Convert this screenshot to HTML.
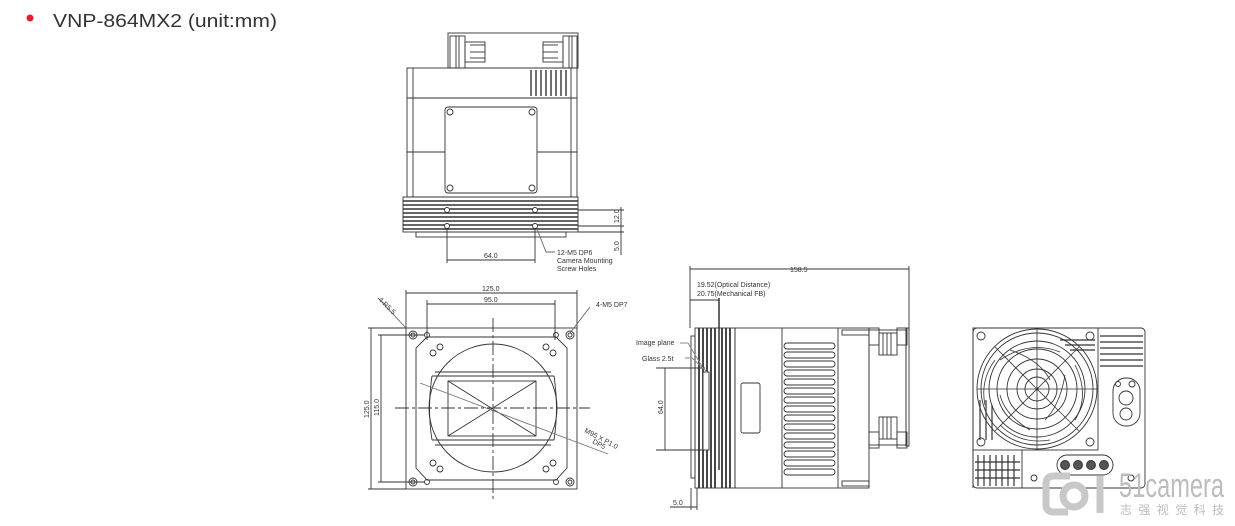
<!DOCTYPE html>
<html><head><meta charset="utf-8"><style>
html,body{margin:0;padding:0;background:#fff;}
svg{display:block;}
text{font-family:"Liberation Sans","Noto Sans CJK SC",sans-serif;}
</style></head><body>
<svg width="1235" height="526" viewBox="0 0 1235 526" xmlns="http://www.w3.org/2000/svg">
<circle cx="30" cy="18" r="3.5" fill="#e0202e"/>
<text x="53" y="27" font-size="18" fill="#333" textLength="224" lengthAdjust="spacingAndGlyphs">VNP-864MX2 (unit:mm)</text>

<g fill="none" stroke="#333" stroke-width="0.9">
<!-- TOP VIEW -->
<rect x="448" y="33" width="130" height="35"/>
<rect x="450" y="36" width="15" height="32"/><rect x="465" y="42" width="20" height="20"/>
<rect x="563" y="36" width="14" height="32"/><rect x="543" y="42" width="20" height="20"/>
<line x1="456" y1="36" x2="456" y2="68"/><line x1="459" y1="36" x2="459" y2="68"/><line x1="569" y1="36" x2="569" y2="68"/><line x1="572" y1="36" x2="572" y2="68"/>
<line x1="470" y1="45" x2="485" y2="45"/><line x1="470" y1="52" x2="485" y2="52"/><line x1="470" y1="58" x2="485" y2="58"/>
<line x1="543" y1="45" x2="558" y2="45"/><line x1="543" y1="52" x2="558" y2="52"/><line x1="543" y1="58" x2="558" y2="58"/>
<rect x="407" y="68" width="170" height="129"/>
<line x1="413" y1="68" x2="413" y2="197"/><line x1="571" y1="68" x2="571" y2="197"/>
<line x1="407" y1="98" x2="577" y2="98"/><line x1="407" y1="152" x2="445" y2="152"/><line x1="537" y1="152" x2="577" y2="152"/>
<g stroke-width="1.4"><line x1="531" y1="70" x2="531" y2="96"/><line x1="536" y1="70" x2="536" y2="96"/><line x1="541" y1="70" x2="541" y2="96"/><line x1="546" y1="70" x2="546" y2="96"/><line x1="551" y1="70" x2="551" y2="96"/><line x1="556" y1="70" x2="556" y2="96"/><line x1="561" y1="70" x2="561" y2="96"/><line x1="566" y1="70" x2="566" y2="96"/></g>
<rect x="445" y="107" width="92" height="86" rx="3"/>
<circle cx="450" cy="112" r="3"/><circle cx="532" cy="112" r="3"/><circle cx="450" cy="188" r="3"/><circle cx="532" cy="188" r="3"/>
<rect x="403" y="197" width="175" height="35"/>
<g stroke-width="1.5"><line x1="403" y1="201" x2="578" y2="201"/><line x1="403" y1="205" x2="578" y2="205"/><line x1="403" y1="209" x2="578" y2="209"/><line x1="403" y1="213" x2="578" y2="213"/><line x1="403" y1="217" x2="578" y2="217"/><line x1="403" y1="221" x2="578" y2="221"/><line x1="403" y1="225" x2="578" y2="225"/><line x1="403" y1="229" x2="578" y2="229"/></g>
<rect x="416" y="232" width="150" height="5"/>
<circle cx="447" cy="210" r="2.5" fill="#fff"/><circle cx="535" cy="210" r="2.5" fill="#fff"/><circle cx="447" cy="226" r="2.5" fill="#fff"/><circle cx="535" cy="226" r="2.5" fill="#fff"/>
<line x1="447" y1="228" x2="447" y2="263"/><line x1="535" y1="228" x2="535" y2="263"/><line x1="447" y1="260" x2="535" y2="260"/>
<line x1="578" y1="210" x2="624" y2="210"/><line x1="578" y1="226" x2="624" y2="226"/><line x1="578" y1="232" x2="624" y2="232"/>
<line x1="621" y1="207" x2="621" y2="255"/>
<polyline points="537,229 546,252 555,252" stroke="#666"/>

<!-- FRONT VIEW -->
<rect x="406" y="328" width="171" height="161"/>
<polygon points="427,337 556,337 567,348 567,468 556,480 427,480 416,468 416,348"/>
<circle cx="493" cy="408" r="64"/>
<line x1="435" y1="372" x2="551" y2="372"/><line x1="432" y1="376" x2="554" y2="376"/>
<line x1="432" y1="440" x2="554" y2="440"/><line x1="435" y1="445" x2="551" y2="445"/>
<path d="M432 376 Q427 408 432 440 M554 376 Q559 408 554 440"/>
<rect x="448" y="381" width="88" height="55"/>
<line x1="448" y1="436" x2="536" y2="381"/><line x1="448" y1="381" x2="536" y2="436"/>
<line x1="420" y1="383" x2="608" y2="454" stroke="#777"/>
<line x1="395" y1="408" x2="590" y2="408" stroke-dasharray="14,3,3,3"/>
<line x1="493" y1="318" x2="493" y2="500" stroke-dasharray="14,3,3,3"/>
<circle cx="413" cy="335" r="4"/><circle cx="413" cy="335" r="2"/><circle cx="570" cy="335" r="4"/><circle cx="570" cy="335" r="2"/>
<circle cx="413" cy="482" r="4"/><circle cx="413" cy="482" r="2"/><circle cx="570" cy="482" r="4"/><circle cx="570" cy="482" r="2"/>
<circle cx="427" cy="335" r="2.5"/><circle cx="556" cy="335" r="2.5"/><circle cx="427" cy="482" r="2.5"/><circle cx="556" cy="482" r="2.5"/>
<circle cx="433" cy="353" r="3"/><circle cx="440" cy="347" r="3"/><circle cx="553" cy="353" r="3"/><circle cx="546" cy="347" r="3"/>
<circle cx="433" cy="463" r="3"/><circle cx="440" cy="469" r="3"/><circle cx="553" cy="463" r="3"/><circle cx="546" cy="469" r="3"/>
<line x1="406" y1="290" x2="406" y2="328"/><line x1="577" y1="290" x2="577" y2="328"/><line x1="406" y1="293" x2="577" y2="293"/>
<line x1="427" y1="300" x2="427" y2="340"/><line x1="555" y1="300" x2="555" y2="340"/><line x1="427" y1="304" x2="555" y2="304"/>
<line x1="368" y1="328" x2="406" y2="328"/><line x1="368" y1="489" x2="406" y2="489"/><line x1="371" y1="328" x2="371" y2="489"/>
<line x1="378" y1="335" x2="425" y2="335"/><line x1="378" y1="482" x2="425" y2="482"/><line x1="381" y1="335" x2="381" y2="482"/>
<line x1="378" y1="298" x2="406" y2="328" stroke="#666"/>
<line x1="590" y1="307" x2="570" y2="333" stroke="#666"/>

<!-- SIDE VIEW -->
<line x1="690" y1="269" x2="909" y2="269"/><line x1="690" y1="266" x2="690" y2="328"/><line x1="909" y1="266" x2="909" y2="330"/>
<line x1="690" y1="300" x2="719" y2="300"/><line x1="719" y1="298" x2="719" y2="470" stroke-width="1.5"/>
<rect x="695" y="328" width="40" height="160"/>
<g stroke-width="1.8"><line x1="699" y1="328" x2="699" y2="488"/><line x1="703" y1="328" x2="703" y2="488"/><line x1="707" y1="328" x2="707" y2="488"/><line x1="711" y1="328" x2="711" y2="488"/><line x1="715" y1="328" x2="715" y2="488"/><line x1="722" y1="328" x2="722" y2="488"/><line x1="726" y1="328" x2="726" y2="488"/><line x1="730" y1="328" x2="730" y2="488"/></g>
<rect x="691" y="336" width="4" height="142"/>
<rect x="703" y="372" width="6" height="78" fill="#fff"/>
<rect x="735" y="328" width="134" height="160"/>
<line x1="782" y1="328" x2="782" y2="488"/><line x1="838" y1="328" x2="838" y2="488"/>
<rect x="741" y="383" width="19" height="50" rx="2"/>
<rect x="842" y="330" width="27" height="5"/><rect x="842" y="481" width="27" height="5"/>
<g>
<rect x="784" y="343" width="51" height="6" rx="3"/><rect x="784" y="352" width="51" height="6" rx="3"/><rect x="784" y="361" width="51" height="6" rx="3"/><rect x="784" y="370" width="51" height="6" rx="3"/><rect x="784" y="379" width="51" height="6" rx="3"/><rect x="784" y="388" width="51" height="6" rx="3"/><rect x="784" y="397" width="51" height="6" rx="3"/><rect x="784" y="406" width="51" height="6" rx="3"/><rect x="784" y="415" width="51" height="6" rx="3"/><rect x="784" y="424" width="51" height="6" rx="3"/><rect x="784" y="433" width="51" height="6" rx="3"/><rect x="784" y="442" width="51" height="6" rx="3"/><rect x="784" y="451" width="51" height="6" rx="3"/><rect x="784" y="460" width="51" height="6" rx="3"/><rect x="784" y="469" width="51" height="6" rx="3"/>
</g>
<rect x="869" y="330" width="37" height="115"/><rect x="906" y="328" width="3" height="118"/>
<rect x="869" y="328" width="10" height="17"/><rect x="897" y="328" width="10" height="17"/><rect x="879" y="333" width="18" height="22"/>
<rect x="869" y="432" width="10" height="16"/><rect x="897" y="432" width="10" height="16"/><rect x="879" y="417" width="18" height="22"/>
<line x1="883" y1="333" x2="883" y2="355"/><line x1="887" y1="333" x2="887" y2="355"/><line x1="891" y1="333" x2="891" y2="355"/>
<line x1="883" y1="417" x2="883" y2="439"/><line x1="887" y1="417" x2="887" y2="439"/><line x1="891" y1="417" x2="891" y2="439"/>
<line x1="656" y1="368" x2="705" y2="368"/><line x1="656" y1="450" x2="705" y2="450"/><line x1="665" y1="368" x2="665" y2="450"/>
<polyline points="680,343 688,343 703,368" stroke="#888"/><polyline points="685,358 692,358 707,372" stroke="#888"/>
<line x1="691" y1="488" x2="691" y2="510"/><line x1="697" y1="488" x2="697" y2="510"/><line x1="670" y1="507" x2="697" y2="507"/>

<!-- BACK VIEW -->
<rect x="973" y="328" width="172" height="160" rx="4"/>
<rect x="973" y="328" width="125" height="122"/>
<line x1="973" y1="450" x2="973" y2="488"/><line x1="1022" y1="450" x2="1022" y2="488"/>
<circle cx="1037" cy="389" r="60"/><circle cx="1037" cy="389" r="56"/><circle cx="1037" cy="389" r="48"/><circle cx="1037" cy="389" r="40"/><circle cx="1037" cy="389" r="30"/><circle cx="1037" cy="389" r="20"/><circle cx="1037" cy="389" r="12"/>
<g stroke-width="0.8"><line x1="1037" y1="329" x2="1037" y2="449"/><line x1="977" y1="389" x2="1097" y2="389"/><line x1="995" y1="347" x2="1079" y2="431"/><line x1="995" y1="431" x2="1079" y2="347"/>
<path d="M1000 360 Q1030 340 1060 352 M1075 365 Q1090 395 1075 420 M1050 440 Q1020 445 1000 425 M985 405 Q980 380 995 360 M1010 350 Q1040 360 1050 380 M1065 375 Q1060 405 1045 420 M1030 430 Q1005 415 1000 395"/></g>
<g stroke-width="1.2"><line x1="980" y1="400" x2="980" y2="440"/><line x1="986" y1="400" x2="986" y2="440"/><line x1="992" y1="405" x2="992" y2="440"/><line x1="1060" y1="340" x2="1095" y2="340"/><line x1="1065" y1="345" x2="1095" y2="345"/><line x1="1070" y1="350" x2="1095" y2="350"/></g>
<circle cx="981" cy="336" r="4"/><circle cx="1090" cy="336" r="4"/><circle cx="981" cy="442" r="4"/><circle cx="1090" cy="442" r="4"/>
<g stroke-width="1.2"><line x1="1100" y1="336" x2="1143" y2="336"/><line x1="1100" y1="342" x2="1143" y2="342"/><line x1="1100" y1="348" x2="1143" y2="348"/><line x1="1100" y1="354" x2="1143" y2="354"/><line x1="1100" y1="360" x2="1143" y2="360"/><line x1="1100" y1="366" x2="1143" y2="366"/>
<line x1="978" y1="455" x2="978" y2="486"/><line x1="984" y1="455" x2="984" y2="486"/><line x1="990" y1="455" x2="990" y2="486"/><line x1="996" y1="455" x2="996" y2="486"/><line x1="1002" y1="455" x2="1002" y2="486"/><line x1="1008" y1="455" x2="1008" y2="486"/><line x1="1014" y1="455" x2="1014" y2="486"/>
<line x1="975" y1="462" x2="1020" y2="462"/><line x1="975" y1="470" x2="1020" y2="470"/><line x1="975" y1="478" x2="1020" y2="478"/></g>
<rect x="1113" y="378" width="27" height="48" rx="13"/><circle cx="1126" cy="398" r="7"/><circle cx="1126" cy="414" r="6"/>
<circle cx="1118" cy="384" r="2.5"/><circle cx="1132" cy="384" r="3"/>
<rect x="1057" y="455" width="56" height="20" rx="10"/>
<circle cx="1065" cy="465" r="4.5" fill="#555"/><circle cx="1078" cy="465" r="4.5" fill="#555"/><circle cx="1091" cy="465" r="4.5" fill="#555"/><circle cx="1104" cy="465" r="4.5" fill="#555"/>
<circle cx="1034" cy="478" r="3"/><circle cx="1131" cy="478" r="3"/>
</g>
<circle cx="1037" cy="389" r="1.5" fill="#333"/>

<!-- watermark -->
<g fill="none" stroke="#c8c8c8" stroke-width="7">
<path d="M1070 476 H1054 Q1046 476 1046 484 V505 Q1046 512 1054 512 H1068"/>
<circle cx="1074" cy="496" r="11"/>
<line x1="1100" y1="476" x2="1100" y2="513"/>
</g>
<text x="1119" y="497" font-size="34" fill="#bdbdbd" textLength="105" lengthAdjust="spacingAndGlyphs">51camera</text>
<text x="1120" y="514" font-size="12" fill="#bdbdbd" textLength="104" lengthAdjust="spacing">志强视觉科技</text>

<!-- labels -->
<g font-size="7" fill="#333">
<text x="484" y="258">64.0</text>
<text x="557" y="255">12-M5 DP6</text><text x="557" y="263">Camera Mounting</text><text x="557" y="271">Screw Holes</text>
<text transform="translate(619,223) rotate(-90)">12.0</text>
<text transform="translate(619,251) rotate(-90)">5.0</text>
<text x="482" y="291">125.0</text><text x="484" y="302">95.0</text>
<text x="596" y="307">4-M5 DP7</text>
<text transform="translate(378,300) rotate(45)">4-R5.5</text>
<text transform="translate(369,418) rotate(-90)">125.0</text>
<text transform="translate(379,416) rotate(-90)">115.0</text>
<text transform="translate(584,432) rotate(28)">M95 X P1.0</text>
<text transform="translate(592,443) rotate(28)">DP5</text>
<text x="790" y="272">158.5</text>
<text x="697" y="287">19.52(Optical Distance)</text>
<text x="697" y="296">20.75(Mechanical FB)</text>
<text x="636" y="345">Image plane</text>
<text x="642" y="361">Glass 2.5t</text>
<text transform="translate(663,414) rotate(-90)">64.0</text>
<text x="673" y="505">5.0</text>
</g>
</svg>
</body></html>
